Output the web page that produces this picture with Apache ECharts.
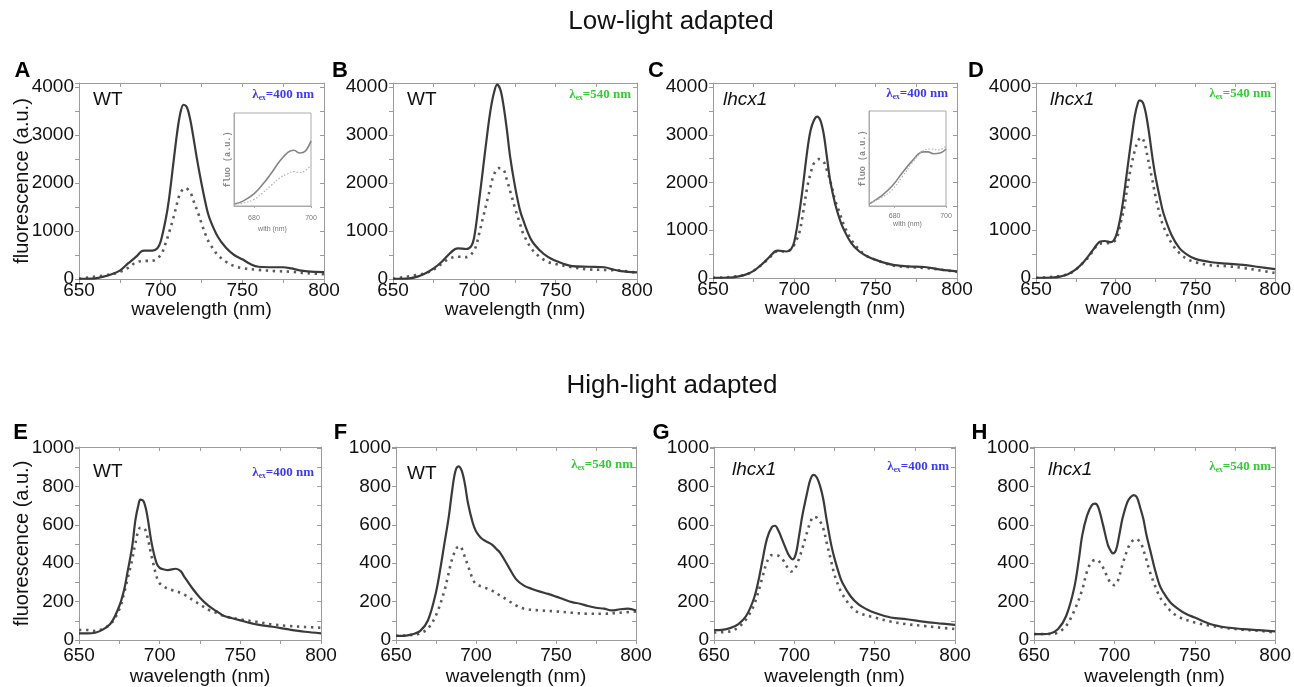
<!DOCTYPE html>
<html><head><meta charset="utf-8">
<script src="https://cdn.jsdelivr.net/npm/echarts@6/dist/echarts.min.js"></script>
<style>html,body{margin:0;padding:0;background:#fff}#c{width:1294px;height:687px}</style>
</head><body><div id="c"></div><script>
// ---------- DATA ----------
const rowTitles = ['Low-light adapted', 'High-light adapted'];
const panelLetters = ['A','B','C','D','E','F','G','H'];
const strains = ['WT','WT','lhcx1','lhcx1','WT','WT','lhcx1','lhcx1'];
const excitation = ['400','540','400','540','400','540','400','540'];
const xTicksLabelled = [650, 700, 750, 800];
const yName = 'fluorescence (a.u.)';
const xName = 'wavelength (nm)';

const A_solid = [[650,5],[660,15],[665,50],[670,100],[675,175],[680,325],[685,465],[688,570],[690,590],[695,590],[698,640],[700,780],[703,1230],[705,1640],[708,2475],[710,3030],[712,3450],[714,3630],[716,3585],[718,3340],[720,2960],[722,2545],[725,1990],[728,1500],[730,1260],[735,880],[740,650],[745,500],[750,410],[755,310],[760,255],[770,245],[775,245],[780,220],[785,180],[790,160],[800,145]];
const A_dotted = [[650,5],[670,100],[675,150],[680,230],[685,350],[690,375],[695,380],[700,500],[703,740],[705,950],[708,1300],[710,1570],[712,1785],[715,1895],[718,1815],[720,1640],[723,1365],[725,1160],[728,880],[730,740],[735,500],[740,360],[745,270],[750,225],[760,190],[770,165],[780,150],[790,120],[800,100]];
const B_solid = [[650,5],[660,15],[665,50],[670,120],[675,220],[680,360],[685,535],[688,620],[690,640],[695,625],[698,680],[700,885],[703,1650],[705,2200],[708,3040],[710,3530],[712,3870],[714,4050],[716,3945],[718,3600],[720,3110],[722,2550],[725,1930],[728,1440],[730,1230],[735,815],[740,605],[745,465],[750,380],[755,313],[760,270],[770,255],[780,245],[785,200],[790,165],[800,140]];
const B_dotted = [[650,5],[670,120],[675,200],[680,320],[685,430],[690,465],[695,455],[700,605],[703,950],[705,1230],[708,1650],[710,1925],[712,2170],[715,2310],[718,2275],[720,2065],[723,1720],[725,1475],[728,1160],[730,950],[735,640],[740,465],[745,360],[750,313],[760,245],[770,200],[780,190],[790,175],[800,130]];
const C_solid = [[650,5],[660,10],[665,30],[670,70],[675,150],[680,285],[685,450],[688,555],[690,575],[695,555],[698,605],[700,765],[703,1355],[705,1845],[708,2680],[710,3095],[712,3300],[714,3380],[716,3300],[718,3025],[720,2540],[722,2050],[725,1565],[728,1220],[730,1045],[735,730],[740,555],[745,450],[750,380],[760,280],[770,245],[780,230],[790,175],[800,140]];
const C_dotted = [[650,5],[670,70],[680,280],[685,440],[690,560],[695,555],[698,600],[700,700],[703,940],[705,1285],[708,1915],[710,2190],[712,2400],[715,2490],[718,2435],[720,2260],[723,1915],[725,1635],[728,1355],[730,1150],[735,800],[740,590],[745,450],[750,380],[760,265],[770,230],[780,210],[790,175],[800,125]];
const D_solid = [[650,5],[660,10],[665,30],[670,80],[675,180],[680,340],[685,555],[688,690],[690,760],[693,775],[697,750],[700,865],[703,1280],[705,1700],[708,2460],[710,2945],[712,3400],[714,3675],[715,3720],[717,3675],[719,3430],[721,3015],[723,2530],[725,2115],[728,1630],[730,1350],[735,900],[740,625],[745,485],[750,400],[760,330],[770,300],[780,275],[790,230],[800,185]];
const D_dotted = [[650,5],[670,80],[680,330],[685,530],[690,720],[695,730],[700,800],[703,1145],[705,1420],[708,2045],[710,2390],[712,2670],[714,2875],[716,2945],[718,2840],[720,2530],[723,2045],[725,1700],[728,1280],[730,1075],[735,730],[740,520],[745,395],[750,330],[760,265],[770,245],[780,210],[790,160],[800,105]];
const E_solid = [[650,35],[655,35],[660,38],[665,55],[670,90],[675,177],[678,263],[680,350],[683,489],[685,627],[687,710],[688,731],[690,723],[692,662],[695,506],[698,402],[700,376],[703,367],[705,364],[710,371],[713,359],[715,333],[720,272],[725,220],[730,180],[735,151],[740,125],[745,113],[750,102],[760,81],[770,69],[780,55],[790,43],[800,35]];
const E_dotted = [[650,52],[655,52],[660,47],[665,59],[670,87],[675,160],[678,246],[680,315],[683,419],[685,506],[688,584],[690,584],[692,550],[695,437],[698,333],[700,295],[705,267],[710,255],[715,237],[720,211],[725,185],[730,159],[735,142],[740,125],[750,107],[760,95],[770,81],[780,73],[790,68],[800,64]];
const F_solid = [[650,22],[655,22],[660,29],[665,46],[670,103],[675,249],[678,386],[680,489],[683,643],[685,772],[687,875],[689,904],[691,883],[693,815],[695,712],[698,609],[700,566],[703,532],[706,515],[710,497],[713,472],[715,455],[720,386],[725,317],[730,283],[735,266],[740,252],[745,240],[750,226],[755,211],[760,197],[765,189],[770,177],[775,168],[780,163],[785,154],[790,160],[795,163],[800,154]];
const F_dotted = [[650,22],[660,26],[665,34],[670,60],[675,129],[680,249],[683,352],[685,420],[688,480],[690,489],[692,455],[695,386],[698,317],[700,292],[705,274],[710,257],[715,232],[720,206],[725,180],[730,163],[740,154],[750,149],[760,142],[770,137],[780,137],[790,142],[800,149]];
const G_solid = [[650,51],[655,53],[660,62],[665,82],[670,125],[675,220],[678,322],[680,408],[683,528],[686,588],[688,595],[690,571],[693,511],[696,451],[698,425],[699,420],[701,451],[703,545],[705,648],[708,768],[710,837],[712,860],[714,846],[716,803],[718,734],[720,631],[723,494],[725,425],[728,340],[730,297],[735,228],[740,185],[745,160],[750,142],[760,117],[770,108],[780,96],[790,87],[800,79]];
const G_dotted = [[650,39],[660,45],[665,65],[670,108],[675,185],[680,322],[683,408],[686,442],[688,442],[690,439],[693,417],[696,374],[698,357],[700,365],[703,425],[705,477],[708,563],[710,614],[712,642],[715,631],[718,580],[720,511],[723,408],[725,340],[728,271],[730,237],[735,177],[740,142],[750,117],[760,96],[770,82],[780,74],[790,65],[800,57]];
const H_solid = [[650,31],[655,31],[660,34],[665,57],[670,125],[675,271],[678,425],[680,545],[683,648],[686,703],[688,710],[690,691],[693,597],[696,494],[698,460],[699,451],[701,468],[703,545],[705,631],[708,717],[710,743],[712,755],[714,743],[716,691],[718,631],[720,545],[723,443],[725,374],[728,288],[730,254],[735,194],[740,160],[745,134],[750,117],[760,82],[770,65],[780,57],[790,51],[800,45]];
const H_dotted = [[650,31],[660,31],[665,39],[670,74],[675,151],[680,262],[683,357],[686,408],[689,418],[692,391],[695,340],[698,292],[700,286],[702,305],[705,391],[708,468],[710,503],[713,526],[716,511],[719,443],[722,357],[725,288],[728,228],[730,202],[735,151],[740,120],[750,91],[760,74],[770,62],[780,53],[790,48],[800,39]];
// insets (normalised fluorescence)
const insetA_solid = [[673,0.02],[676,0.05],[680,0.13],[683,0.23],[686,0.35],[689,0.48],[692,0.58],[694,0.60],[696,0.57],[698,0.59],[700,0.70]];
const insetA_dotted = [[673,0.02],[676,0.03],[680,0.07],[683,0.14],[686,0.22],[689,0.30],[692,0.35],[694,0.37],[696,0.36],[698,0.38],[700,0.44]];
const insetC_solid = [[670,0.02],[675,0.11],[679,0.21],[683,0.35],[687,0.48],[691,0.57],[693,0.57],[695,0.55],[698,0.56],[700,0.60]];
const insetC_dotted = [[670,0.03],[675,0.09],[679,0.17],[683,0.31],[687,0.46],[691,0.58],[694,0.60],[697,0.59],[700,0.63]];
const insetTicks = [680, 700];
const insetXName = 'wlth (nm)';
const insetYName = 'fluo (a.u.)';

// ---------- LAYOUT ----------
const solids = [A_solid,B_solid,C_solid,D_solid,E_solid,F_solid,G_solid,H_solid];
const dotteds = [A_dotted,B_dotted,C_dotted,D_dotted,E_dotted,F_dotted,G_dotted,H_dotted];
const boxes = [
  {l:79, t:83, w:245, h:196}, {l:393, t:83, w:244, h:196}, {l:713, t:83, w:244, h:195}, {l:1036, t:83, w:244, h:195},
  {l:79, t:447, w:242, h:195}, {l:396, t:447, w:240, h:195}, {l:714, t:447, w:241, h:196}, {l:1034, t:447, w:242, h:196}
];
const FONT = 'Liberation Sans, Arial, sans-serif';
const FRAME = '#9c9c9c';
const grid = [], xAxis = [], yAxis = [], series = [];

boxes.forEach((b, i) => {
  const top = i < 4;
  const gi = grid.length;
  grid.push({left:b.l, top:b.t, width:b.w, height:b.h, containLabel:false});
  const ymax = top ? 4000 * b.h / (b.h - 4) : 1000 * b.h / (b.h - 1);
  const yint = top ? 500 : 100, ylab = top ? 1000 : 200;
  xAxis.push({gridIndex:gi, type:'value', min:650, max:800, interval:25,
    axisLine:{show:true, onZero:false, lineStyle:{color:FRAME, width:1}},
    axisTick:{show:true, inside:false, length:4, lineStyle:{color:FRAME}},
    splitLine:{show:false},
    axisLabel:{fontSize:19, color:'#111', fontFamily:FONT, margin: top ? 2 : 6,
      formatter: v => xTicksLabelled.includes(v) ? String(v) : ''},
    name:xName, nameLocation:'middle', nameGap: top ? 21 : 27, nameMoveOverlap:false,
    nameTextStyle:{fontSize:19, color:'#111', fontFamily:FONT}});
  xAxis.push({gridIndex:gi, type:'value', position:'top', min:650, max:800, interval:25,
    axisLine:{show:true, onZero:false, lineStyle:{color:FRAME}},
    axisTick:{show:true, inside:true, length:4, lineStyle:{color:FRAME}},
    splitLine:{show:false}, axisLabel:{show:false}});
  yAxis.push({gridIndex:gi, type:'value', min:0, max:ymax, interval:yint,
    axisLine:{show:true, onZero:false, lineStyle:{color:FRAME}},
    axisTick:{show:true, inside:false, length:4, lineStyle:{color:FRAME}},
    splitLine:{show:false},
    axisLabel:{fontSize:19, color:'#111', fontFamily:FONT, margin:5,
      formatter: v => (Math.abs(v % ylab) < 1e-6 && v <= (top?4000:1000)) ? String(v) : ''},
    name: (i === 0 || i === 4) ? yName : '', nameLocation:'middle', nameGap:47, nameMoveOverlap:false,
    nameTextStyle:{fontSize:20, color:'#111', fontFamily:FONT}});
  yAxis.push({gridIndex:gi, type:'value', position:'right', min:0, max:ymax, interval:yint,
    axisLine:{show:true, onZero:false, lineStyle:{color:FRAME}},
    axisTick:{show:true, inside:true, length:4, lineStyle:{color:FRAME}},
    splitLine:{show:false}, axisLabel:{show:false}});
  const xi = xAxis.length - 2, yi = yAxis.length - 2;
  series.push({type:'line', name:panelLetters[i]+' solid', xAxisIndex:xi, yAxisIndex:yi, data:solids[i],
    showSymbol:false, smooth:0.35, lineStyle:{color:'#3a3a3a', width:2.2}, z:3});
  series.push({type:'line', name:panelLetters[i]+' dotted', xAxisIndex:xi, yAxisIndex:yi, data:dotteds[i],
    showSymbol:false, smooth:0.35, lineStyle:{color:'#5a5a5a', width:2.6, type:[2.4,4.6]}, z:2});
});

// insets
const insets = [
  {l:234, t:113, w:77, h:93, min:673, s:insetA_solid, d:insetA_dotted, lm:9, ng:20},
  {l:869, t:111, w:77, h:95, min:670, s:insetC_solid, d:insetC_dotted, lm:7, ng:15}
];
insets.forEach(ins => {
  const gi = grid.length;
  grid.push({left:ins.l, top:ins.t, width:ins.w, height:ins.h, show:true, borderColor:'#aaa', borderWidth:1, backgroundColor:'#fff', z:5});
  xAxis.push({gridIndex:gi, type:'value', min:ins.min, max:700,
    axisLine:{show:true, onZero:false, lineStyle:{color:'#aaa'}},
    axisTick:{show:true, inside:false, length:2, customValues:insetTicks, lineStyle:{color:'#aaa'}}, splitLine:{show:false},
    axisLabel:{customValues:insetTicks, fontSize:7, color:'#777', margin:ins.lm, fontFamily:FONT, showMinLabel:true, showMaxLabel:true},
    name:insetXName, nameLocation:'middle', nameGap:ins.ng, nameMoveOverlap:false, nameTextStyle:{fontSize:7, color:'#777', fontFamily:FONT}, z:6});
  yAxis.push({gridIndex:gi, type:'value', min:0, max:1,
    axisLine:{show:true, onZero:false, lineStyle:{color:'#aaa'}},
    axisTick:{show:false}, splitLine:{show:false}, axisLabel:{show:false},
    name:insetYName, nameLocation:'middle', nameGap:2, nameMoveOverlap:false,
    nameTextStyle:{fontSize:8.5, fontWeight:'bold', color:'#888', fontFamily:'Liberation Mono, monospace'}, z:6});
  const xi = xAxis.length - 1, yi = yAxis.length - 1;
  series.push({type:'line', xAxisIndex:xi, yAxisIndex:yi, data:ins.s, showSymbol:false, smooth:0.4,
    lineStyle:{color:'#858585', width:1.6}, z:7});
  series.push({type:'line', xAxisIndex:xi, yAxisIndex:yi, data:ins.d, showSymbol:false, smooth:0.4,
    lineStyle:{color:'#b5b5b5', width:1.2, type:[1.5,1.8]}, z:7});
});

// text graphics
const graphic = [];
const titlePos = [[671, 22], [672, 386]];
rowTitles.forEach((t, k) => graphic.push({type:'text', x:titlePos[k][0], y:titlePos[k][1],
  style:{text:t, fontSize:26, fontFamily:FONT, fill:'#111', align:'center', verticalAlign:'middle'}}));
const letterPos = [[22.5,71],[340,71],[656,71],[976,71],[20.5,432.5],[340.5,433],[661,433],[979.5,433]];
const strainPos = [[93,100],[407,100],[723,100],[1050,100],[93,471.5],[407,473.5],[732,470],[1048,470]];
const exPos = [[314,95],[631,95],[948,94],[1271,94],[314,473],[633,465],[949,467],[1271,467]];
panelLetters.forEach((L, i) => {
  graphic.push({type:'text', x:letterPos[i][0], y:letterPos[i][1],
    style:{text:L, fontSize:22, fontWeight:'bold', fontFamily:FONT, fill:'#000', align:'center', verticalAlign:'middle'}});
  graphic.push({type:'text', x:strainPos[i][0], y:strainPos[i][1],
    style:{text:strains[i], fontSize:19, fontStyle: strains[i]==='WT' ? 'normal':'italic', fontFamily:FONT, fill:'#111', align:'left', verticalAlign:'middle'}});
  const col = excitation[i] === '400' ? '#3b3bf0' : '#33cc33';
  graphic.push({type:'text', x:exPos[i][0], y:exPos[i][1], z:10,
    style:{text:'{a|λ}{s|ex}{a|=' + excitation[i] + ' nm}', align:'right', verticalAlign:'middle',
      rich:{a:{fontSize:13, fontWeight:'bold', fontFamily:'Liberation Serif, serif', fill:col, lineHeight:14},
            s:{fontSize:7.5, fontWeight:'bold', fontFamily:'Liberation Serif, serif', fill:col, lineHeight:14, verticalAlign:'bottom', padding:[6,0,0,0]}}}});
});

const chart = echarts.init(document.getElementById('c'), null, {renderer:'canvas'});
chart.setOption({animation:false, backgroundColor:'#fff', grid, xAxis, yAxis, series, graphic});
</script></body></html>
